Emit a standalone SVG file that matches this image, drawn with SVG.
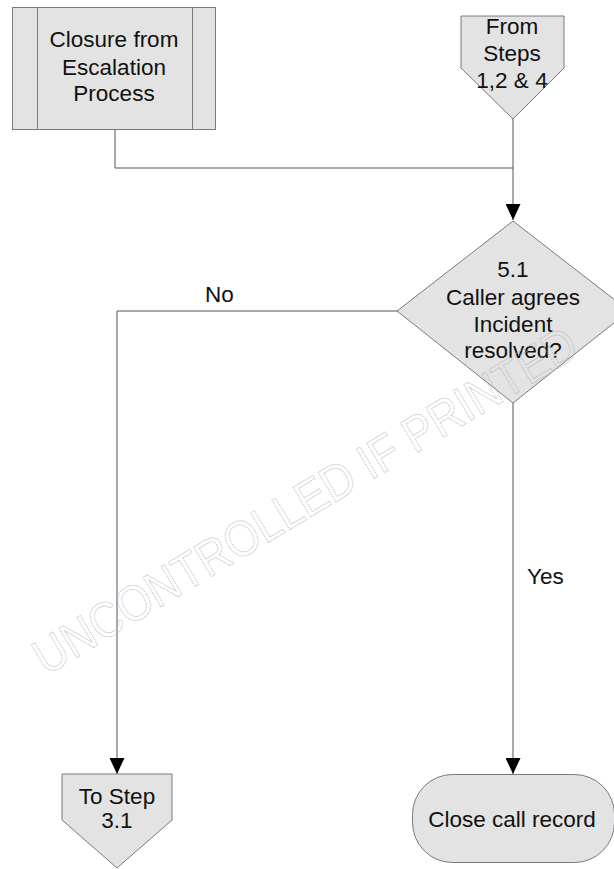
<svg xmlns="http://www.w3.org/2000/svg" width="614" height="869" viewBox="0 0 614 869">
<style>
.shape{fill:#e3e3e3;stroke:#7a7a7a;stroke-width:1}
.conn{fill:none;stroke:#555;stroke-width:1}
.t{font-family:"Liberation Sans",Arial,sans-serif;font-size:22.5px;fill:#111;text-anchor:middle}
.lbl{font-family:"Liberation Sans",Arial,sans-serif;font-size:22.5px;fill:#111}
.wm{font-family:"Liberation Sans",Arial,sans-serif;font-size:50px;fill:none;stroke:#b0b0b0;stroke-width:0.9;stroke-dasharray:1 1}
</style>
<defs>
<marker id="arr" markerWidth="16" markerHeight="15" refX="16" refY="7.5" orient="auto" markerUnits="userSpaceOnUse">
<path d="M0,0 L16,7.5 L0,15 Z" fill="#000"/>
</marker>
</defs>
<rect width="614" height="869" fill="#fff"/>
<g id="connectors">
<path class="conn" d="M115,129 V168 H513 V220" marker-end="url(#arr)"/>
<path class="conn" d="M513,119 V168"/>
<path class="conn" d="M397,311 H117 V774" marker-end="url(#arr)"/>
<path class="conn" d="M513,403 V774" marker-end="url(#arr)"/>
<text class="lbl" x="205" y="302">No</text>
<text class="lbl" x="527" y="584">Yes</text>
</g>
<g id="n_closure">
<rect class="shape" x="12.5" y="7.5" width="203" height="122"/>
<line class="shape" x1="37.5" y1="7.5" x2="37.5" y2="129.5"/>
<line class="shape" x1="192.5" y1="7.5" x2="192.5" y2="129.5"/>
<text class="t" x="114" y="47">Closure from</text>
<text class="t" x="114" y="75">Escalation</text>
<text class="t" x="114" y="101">Process</text>
</g>
<g id="n_from">
<path class="shape" d="M461,16 H564 V68 L513,119 L461,68 Z"/>
<text class="t" x="512" y="34">From</text>
<text class="t" x="512" y="61">Steps</text>
<text class="t" x="512" y="88">1,2 &amp; 4</text>
</g>
<g id="n_decision">
<path class="shape" d="M513,221 L629,311 L513,403 L397,311 Z"/>
<text class="t" x="513" y="277">5.1</text>
<text class="t" x="513" y="305">Caller agrees</text>
<text class="t" x="513" y="332">Incident</text>
<text class="t" x="513" y="358">resolved?</text>
</g>
<g id="n_tostep">
<path class="shape" d="M62,774 H172 V820 L117,868 L62,820 Z"/>
<text class="t" x="117" y="804">To Step</text>
<text class="t" x="117" y="828">3.1</text>
</g>
<g id="n_close">
<rect class="shape" x="412.5" y="774.5" width="202" height="88" rx="40" ry="40"/>
<text class="t" x="512" y="827">Close call record</text>
</g>
<text class="wm" x="0" y="0" transform="translate(46,676) rotate(-31)" textLength="625" lengthAdjust="spacingAndGlyphs">UNCONTROLLED IF PRINTED</text>
</svg>
